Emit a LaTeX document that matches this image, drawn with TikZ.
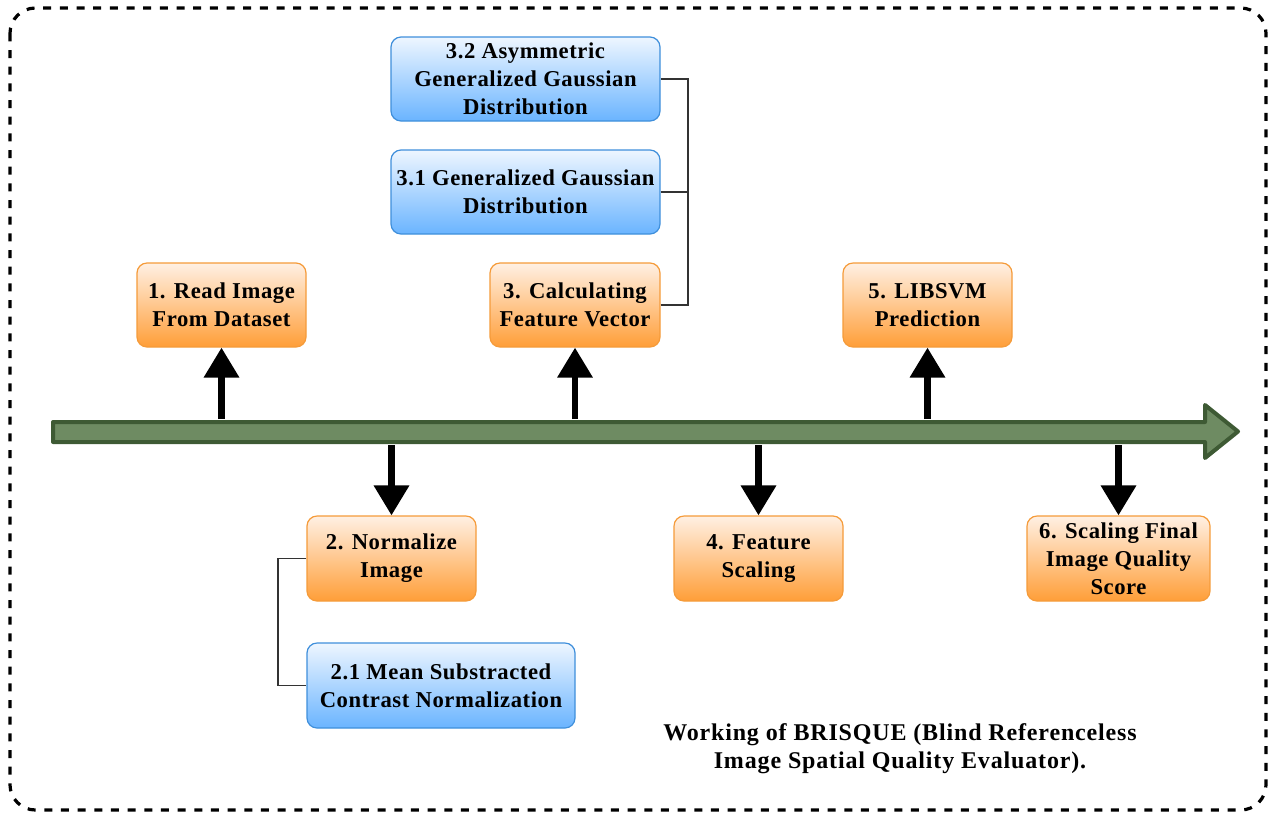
\documentclass[tikz,border=0pt]{standalone}
\usepackage{fontspec}
\setmainfont{Liberation Serif}
\newfontfamily\boxfont[LetterSpace=2.5]{Liberation Serif}
\newfontfamily\capfont[LetterSpace=3.5]{Liberation Serif}
\usetikzlibrary{arrows.meta}
\definecolor{orEdge}{HTML}{F59B3A}
\definecolor{orTop}{HTML}{FFF0E3}
\definecolor{orBot}{HTML}{FF9E38}
\definecolor{blEdge}{HTML}{3F8FDB}
\definecolor{blTop}{HTML}{EEF6FF}
\definecolor{blBot}{HTML}{6AB4FF}
\definecolor{tlFill}{HTML}{6E8B62}
\definecolor{tlEdge}{HTML}{3E5A34}
\definecolor{elbow}{HTML}{333333}
\tikzset{
  stepbox/.style={rounded corners=7.5pt, line width=0.9pt, align=center,
    font=\boxfont\fontsize{17pt}{21pt}\selectfont\bfseries, inner sep=0pt},
  orangebox/.style={stepbox, draw=orEdge, top color=orTop, bottom color=orBot},
  bluebox/.style={stepbox, draw=blEdge, top color=blTop, bottom color=blBot},
  bigarrow/.style={line width=5pt, -{Triangle[length=22.5pt,width=25.5pt]}},
  elbowline/.style={draw=elbow, line width=1.1pt},
}
\begin{document}
\begin{tikzpicture}[x=0.75pt,y=-0.75pt]
\useasboundingbox (0,0) rectangle (1270,815);
% outer dashed frame
\draw[line width=2.4pt, dash pattern=on 6pt off 6.5pt, rounded corners=19pt]
  (10,8) rectangle (1266,810);
% timeline arrow
\draw[fill=tlFill, draw=tlEdge, line width=3pt, line join=round]
  (53,422) -- (1205,422) -- (1205,405) -- (1238,431.5) -- (1205,458)
  -- (1205,442) -- (53,442) -- cycle;
% anchor points on the timeline
\coordinate (t1) at (221.5,419);
\coordinate (t2) at (391.5,445);
\coordinate (t3) at (575,419);
\coordinate (t4) at (758.5,445);
\coordinate (t5) at (927.5,419);
\coordinate (t6) at (1118.5,445);
% step boxes
\node[orangebox, minimum width=126.75pt, minimum height=63pt] (n1) at (221.5,305) {1. Read Image\\From Dataset};
\node[orangebox, minimum width=127.5pt, minimum height=63pt] (n3) at (575,305) {3. Calculating\\Feature Vector};
\node[orangebox, minimum width=126.75pt, minimum height=63pt] (n5) at (927.5,305) {5. LIBSVM\\Prediction};
\node[orangebox, minimum width=126.75pt, minimum height=63.75pt] (n2) at (391.5,558.5) {2. Normalize\\Image};
\node[orangebox, minimum width=126.75pt, minimum height=63.75pt] (n4) at (758.5,558.5) {4. Feature\\Scaling};
\node[orangebox, minimum width=137.25pt, minimum height=63.75pt] (n6) at (1118.5,558.5) {6. Scaling Final\\Image Quality\\Score};
% sub-step boxes
\node[bluebox, minimum width=201.75pt, minimum height=63pt] (n32) at (525.5,79) {3.2 Asymmetric\\Generalized Gaussian\\Distribution};
\node[bluebox, minimum width=201.75pt, minimum height=63pt] (n31) at (525.5,192) {3.1 Generalized Gaussian\\Distribution};
\node[bluebox, minimum width=201pt, minimum height=63.75pt] (n21) at (441,685.5) {2.1 Mean Substracted\\Contrast Normalization};
% arrows from the timeline
\draw[bigarrow] (t1) -- (n1.south);
\draw[bigarrow] (t3) -- (n3.south);
\draw[bigarrow] (t5) -- (n5.south);
\draw[bigarrow] (t2) -- (n2.north);
\draw[bigarrow] (t4) -- (n4.north);
\draw[bigarrow] (t6) -- (n6.north);
% elbow connectors to sub-steps
\draw[elbowline] (n3.east) -| (688,79) |- (n32.east);
\draw[elbowline] (n31.east) -- (688,192);
\draw[elbowline] (n2.west) -| (278,685.5) -- (n21.west);
% caption
\node[align=center, font=\capfont\fontsize{18pt}{21pt}\selectfont\bfseries] (cap) at (900,749)
  {Working of BRISQUE (Blind Referenceless\\Image Spatial Quality Evaluator).};
\end{tikzpicture}
\end{document}
